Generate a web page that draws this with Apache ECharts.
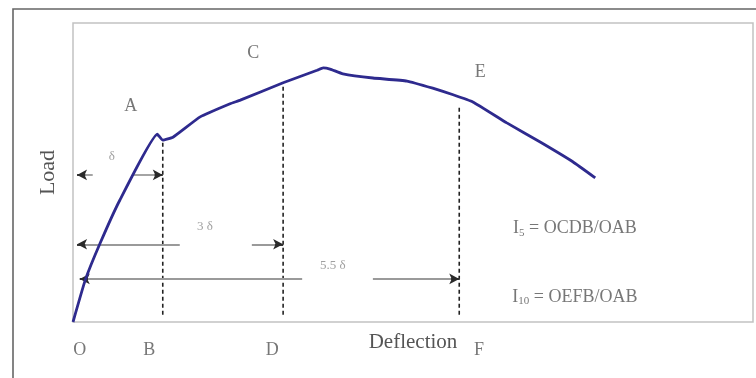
<!DOCTYPE html>
<html>
<head>
<meta charset="utf-8">
<script src="https://cdn.jsdelivr.net/npm/echarts@6/dist/echarts.min.js"></script>
<style>
  html, body { margin: 0; padding: 0; background: #fff; }
  #chart { width: 756px; height: 378px; }
</style>
</head>
<body>
<div id="chart"></div>
<script>
// Load–deflection curve (arbitrary units) used to define the toughness indices.
const deflection = [0, 0.18, 0.40, 0.69, 1.24, 1.32, 1.47, 1.87, 2.31, 2.46, 3.09, 3.59, 3.68, 3.78, 3.97, 4.41, 4.91, 5.29, 5.59, 5.88, 6.38, 6.87, 7.35, 7.68];
const load       = [0, 7.0, 13.2, 20.4, 31.4, 30.4, 30.9, 34.3, 36.5, 37.1, 40.0, 42.1, 42.5, 42.3, 41.5, 40.8, 40.3, 39.1, 38.0, 36.8, 33.3, 30.1, 26.8, 24.1];

// Reference deflections B, D, F and the load at which each dashed drop line starts
const dropNames = ['B', 'D', 'F'];
const dropAt    = [1.32, 3.09, 5.68];
const dropTop   = [30.4, 39.6, 36.1];
const dropBase  = 1.2;

// Dimension spans: δ, 3δ, 5.5δ (load level, left piece, right piece)
const spanText  = ['δ', '3 δ', '5.5 δ'];
const spanLevel = [24.6, 13.0, 7.2];
const spanLeft  = [[0.06, 0.29], [0.06, 1.57], [0.10, 3.37]];
const spanRight = [[0.87, 1.32], [2.63, 3.09], [4.41, 5.68]];
const spanLabel = [[0.57, 27.6], [1.94, 15.9], [3.82, 9.5]];

// Point letters on the curve
const pointNames = ['A', 'C', 'E'];
const pointAt    = [[0.85, 36.0], [2.65, 45.0], [5.99, 41.8]];

// Letters under the deflection axis
const baseNames = ['O', 'B', 'D', 'F'];
const baseAt    = [0.10, 1.12, 2.93, 5.97];
const baseLevel = -4.7;

// Index definitions
const indexText = ['I{sub|5} = OCDB/OAB', 'I{sub|10} = OEFB/OAB'];
const indexAt   = [[7.38, 15.7], [7.38, 4.2]];

const serif = '"Liberation Serif", "DejaVu Serif", serif';
const textGrey = '#555';

const series = [];

// main curve
series.push({
  type: 'line',
  data: deflection.map((d, i) => [d, load[i]]),
  symbol: 'none',
  smooth: 0.12,
  lineStyle: { color: '#2e2a8e', width: 2.8 },
  z: 5
});

// dashed drop lines
dropAt.forEach((x, i) => {
  series.push({
    type: 'line',
    data: [[x, dropBase], [x, dropTop[i]]],
    symbol: 'none',
    lineStyle: { color: '#222', width: 1.6, type: [4, 3] },
    z: 3
  });
});

// dimension spans
const grey = '#9a9a9a';
const dark = '#2a2a2a';
function seg(x0, x1, y, s0, s1, color) {
  return [
    { coord: [x0, y], symbol: s0, lineStyle: { color: color, width: 1.8, type: 'solid' } },
    { coord: [x1, y], symbol: s1 }
  ];
}
const spanLines = [];
spanLevel.forEach((y, i) => {
  const [a0, a1] = spanLeft[i];
  const [b0, b1] = spanRight[i];
  spanLines.push(seg(a0, a1, y, 'none', 'none', grey));
  spanLines.push(seg(b0, b1, y, 'none', 'none', grey));
  // arrowheads
  spanLines.push(seg(a0, a0 + 0.12, y, 'arrow', 'none', dark));
  spanLines.push(seg(b1 - 0.12, b1, y, 'none', 'arrow', dark));
});
series.push({
  type: 'line',
  data: [],
  markLine: {
    silent: true,
    symbolSize: [8, 10],
    label: { show: false },
    lineStyle: { width: 1.8, type: 'solid' },
    emphasis: { disabled: true },
    data: spanLines
  },
  z: 2
});

// text annotations
function textSeries(items, style) {
  return {
    type: 'scatter',
    clip: false,
    symbolSize: 0,
    silent: true,
    data: items.map(t => ({ value: t.at, name: t.text })),
    label: Object.assign({
      show: true,
      position: 'inside',
      formatter: p => p.name,
      fontFamily: serif,
      color: textGrey
    }, style),
    z: 6
  };
}

series.push(textSeries(spanText.map((t, i) => ({ text: t, at: spanLabel[i] })), { fontSize: 13, color: '#888' }));
series.push(textSeries(pointNames.map((t, i) => ({ text: t, at: pointAt[i] })), { fontSize: 18 }));
series.push(textSeries(baseNames.map((t, i) => ({ text: t, at: [baseAt[i], baseLevel] })), { fontSize: 18 }));
series.push(textSeries(indexText.map((t, i) => ({ text: t, at: indexAt[i] })), {
  fontSize: 18,
  rich: { sub: { fontSize: 11, fontFamily: serif, color: textGrey, padding: [9, 0, 0, 0] } }
}));

const chart = echarts.init(document.getElementById('chart'), null, { renderer: 'canvas' });
chart.setOption({
  backgroundColor: '#fff',
  animation: false,
  graphic: [{
    type: 'rect',
    shape: { x: 13, y: 9, width: 760, height: 380 },
    style: { fill: 'none', stroke: '#666', lineWidth: 1.6 },
    z: -1
  }],
  grid: {
    left: 73, right: 3, top: 23, bottom: 56,
    show: true, borderColor: '#c2c2c2', borderWidth: 1.5, backgroundColor: '#fff'
  },
  xAxis: {
    type: 'value', min: 0, max: 10,
    name: 'Deflection', nameLocation: 'middle', nameGap: 10,
    nameTextStyle: { fontFamily: serif, fontSize: 21, color: textGrey },
    axisLine: { show: false }, axisTick: { show: false },
    axisLabel: { show: false }, splitLine: { show: false }
  },
  yAxis: {
    type: 'value', min: 0, max: 50,
    name: 'Load', nameLocation: 'middle', nameGap: 14,
    nameTextStyle: { fontFamily: serif, fontSize: 22, color: textGrey },
    axisLine: { show: false }, axisTick: { show: false },
    axisLabel: { show: false }, splitLine: { show: false }
  },
  series: series
});
</script>
</body>
</html>
